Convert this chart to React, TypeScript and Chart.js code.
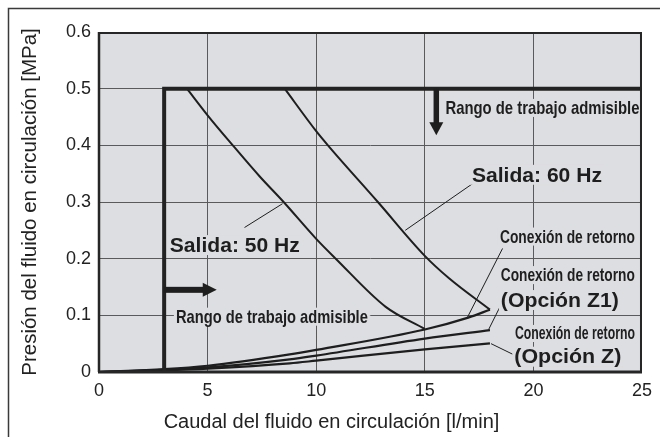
import React, { useEffect, useRef } from "react";
import { Chart, registerables } from "chart.js";

Chart.register(...registerables);

// ---- axis ticks ----
const xTickValues = [0, 5, 10, 15, 20, 25];
const xTickLabels = ["0", "5", "10", "15", "20", "25"];
const yTickValues = [0, 0.1, 0.2, 0.3, 0.4, 0.5, 0.6];
const yTickLabels = ["0", "0.1", "0.2", "0.3", "0.4", "0.5", "0.6"];

const xTitle = "Caudal del fluido en circulación [l/min]";
const yTitle = "Presión del fluido en circulación [MPa]";

// ---- series ----
// permissible working range boundary
const rangeX = [3, 3, 25];
const rangeY = [0, 0.5, 0.5];
// output 50 Hz
const hz50X = [4.05, 5, 6.16, 7.4, 8.5, 10, 10.9, 13.2, 15];
const hz50Y = [0.5, 0.453, 0.4, 0.345, 0.3, 0.235, 0.2, 0.115, 0.076];
// output 60 Hz
const hz60X = [8.55, 10, 10.54, 12.84, 15, 16.13, 18];
const hz60Y = [0.5, 0.425, 0.4, 0.3, 0.205, 0.165, 0.11];
// return connection
const retX = [0, 3, 5, 8.78, 10, 15, 17, 18];
const retY = [0, 0.005, 0.011, 0.031, 0.039, 0.075, 0.096, 0.11];
// return connection option Z1
const z1X = [0, 3, 5, 8.78, 10, 15, 18];
const z1Y = [0, 0.004, 0.008, 0.0224, 0.029, 0.059, 0.074];
// return connection option Z
const zX = [0, 3, 5, 8.78, 10, 15, 18];
const zY = [0, 0.003, 0.006, 0.0153, 0.02, 0.04, 0.0506];

const toPts = (xs: number[], ys: number[]) => xs.map((x, i) => ({ x, y: ys[i] }));

const BG = "#dddee1";
const INK = "#1e1e1e";
const GRID = "#5a5a5a";
const FONT = '"Liberation Sans", Arial, sans-serif';

type Label = { text: string; x: number; y: number; size: number; width: number };
const labels: Label[] = [
  { text: "Rango de trabajo admisible", x: 15.95, y: 0.466, size: 19, width: 194 },
  { text: "Salida: 60 Hz", x: 17.17, y: 0.348, size: 21, width: 130 },
  { text: "Salida: 50 Hz", x: 3.26, y: 0.224, size: 21, width: 130 },
  { text: "Rango de trabajo admisible", x: 3.54, y: 0.0976, size: 19, width: 192 },
  { text: "Conexión de retorno", x: 18.46, y: 0.239, size: 19, width: 135 },
  { text: "Conexión de retorno", x: 18.5, y: 0.171, size: 19, width: 134 },
  { text: "(Opción Z1)", x: 18.5, y: 0.127, size: 21, width: 118 },
  { text: "Conexión de retorno", x: 19.15, y: 0.068, size: 18, width: 120 },
  { text: "(Opción Z)", x: 19.12, y: 0.027, size: 21, width: 107 },
];

const leaders: [number, number, number, number][] = [
  [6.7, 0.255, 8.45, 0.297],
  [14.1, 0.25, 17.3, 0.335],
  [18.58, 0.218, 16.97, 0.097],
  [18.5, 0.118, 17.94, 0.075],
  [19.12, 0.03, 18.05, 0.05],
];

const annotPlugin = {
  id: "annot",
  beforeDraw(chart: any) {
    const { ctx, chartArea: a } = chart;
    ctx.save();
    ctx.fillStyle = "#ffffff";
    ctx.fillRect(0, 0, chart.width, chart.height);
    ctx.fillStyle = BG;
    ctx.fillRect(a.left, a.top, a.right - a.left, a.bottom - a.top);
    // outer frame
    ctx.strokeStyle = "#3a3a3a";
    ctx.lineWidth = 1.5;
    ctx.beginPath();
    ctx.moveTo(8.5, chart.height);
    ctx.lineTo(8.5, 8.5);
    ctx.lineTo(chart.width, 8.5);
    ctx.stroke();
    // x axis title (offset left of the plot centre, as in the source)
    ctx.fillStyle = "#222";
    ctx.font = `20px ${FONT}`;
    ctx.textAlign = "center";
    ctx.textBaseline = "middle";
    ctx.fillText(xTitle, (a.left + a.right) / 2 - 39, a.bottom + 50);
    ctx.restore();
  },
  beforeDatasetsDraw(chart: any) {
    const { ctx, scales } = chart;
    const xs = scales.x, ys = scales.y;
    ctx.save();
    // leader lines
    ctx.strokeStyle = INK;
    ctx.lineWidth = 1;
    leaders.forEach(([x1, y1, x2, y2]) => {
      ctx.beginPath();
      ctx.moveTo(xs.getPixelForValue(x1), ys.getPixelForValue(y1));
      ctx.lineTo(xs.getPixelForValue(x2), ys.getPixelForValue(y2));
      ctx.stroke();
    });
    // labels with background
    labels.forEach((l) => {
      const px = xs.getPixelForValue(l.x);
      const py = ys.getPixelForValue(l.y);
      ctx.font = `bold ${l.size}px ${FONT}`;
      const w = ctx.measureText(l.text).width;
      const sx = l.width / w;
      const h = l.size * 0.95;
      ctx.fillStyle = BG;
      ctx.fillRect(px - 2, py - h / 2, l.width + 4, h);
      ctx.fillStyle = INK;
      ctx.textBaseline = "middle";
      ctx.textAlign = "left";
      ctx.save();
      ctx.translate(px, py + 1);
      ctx.scale(sx, 1);
      ctx.fillText(l.text, 0, 0);
      ctx.restore();
    });
    ctx.restore();
  },
  afterDatasetsDraw(chart: any) {
    const { ctx, chartArea: a, scales } = chart;
    const xs = scales.x, ys = scales.y;
    ctx.save();
    ctx.strokeStyle = "#262626";
    ctx.lineWidth = 2;
    ctx.beginPath();
    ctx.moveTo(a.left, a.top + 1);
    ctx.lineTo(a.right - 1, a.top + 1);
    ctx.lineTo(a.right - 1, a.bottom);
    ctx.stroke();
    ctx.lineWidth = 2.5;
    ctx.beginPath();
    ctx.moveTo(a.left, a.top);
    ctx.lineTo(a.left, a.bottom);
    ctx.stroke();
    ctx.lineWidth = 3;
    ctx.beginPath();
    ctx.moveTo(a.left - 1, a.bottom);
    ctx.lineTo(a.right, a.bottom);
    ctx.stroke();

    // arrows
    ctx.fillStyle = INK;
    // down arrow
    const dx = xs.getPixelForValue(15.53);
    const dTop = ys.getPixelForValue(0.5);
    const dTip = ys.getPixelForValue(0.418);
    ctx.fillRect(dx - 2.75, dTop, 5.5, dTip - dTop - 12);
    ctx.beginPath();
    ctx.moveTo(dx - 7, dTip - 13);
    ctx.lineTo(dx + 7, dTip - 13);
    ctx.lineTo(dx, dTip);
    ctx.closePath();
    ctx.fill();
    // right arrow
    const ry = ys.getPixelForValue(0.145);
    const rL = xs.getPixelForValue(3);
    const rTip = xs.getPixelForValue(5.42);
    ctx.fillRect(rL, ry - 3, rTip - rL - 13, 6);
    ctx.beginPath();
    ctx.moveTo(rTip - 14, ry - 7);
    ctx.lineTo(rTip - 14, ry + 7);
    ctx.lineTo(rTip, ry);
    ctx.closePath();
    ctx.fill();
    ctx.restore();
  },
};

export default function App() {
  const ref = useRef<HTMLCanvasElement | null>(null);
  useEffect(() => {
    if (!ref.current) return;
    const lineDs = (label: string, xs: number[], ys: number[], width: number, tension = 0.35) => ({
      label,
      data: toPts(xs, ys),
      borderColor: INK,
      borderWidth: width,
      pointRadius: 0,
      fill: false,
      tension,
      cubicInterpolationMode: "monotone" as const,
    });
    const chart = new Chart(ref.current, {
      type: "line",
      data: {
        datasets: [
          { ...lineDs("Rango de trabajo admisible", rangeX, rangeY, 4, 0), cubicInterpolationMode: "default" as const, borderColor: "#222" },
          lineDs("Salida: 50 Hz", hz50X, hz50Y, 2),
          lineDs("Salida: 60 Hz", hz60X, hz60Y, 2),
          lineDs("Conexión de retorno", retX, retY, 2.2),
          lineDs("Conexión de retorno (Opción Z1)", z1X, z1Y, 2.2),
          lineDs("Conexión de retorno (Opción Z)", zX, zY, 2.2),
        ],
      },
      options: {
        animation: false,
        responsive: true,
        maintainAspectRatio: false,
        layout: { padding: { top: 32, right: 17, left: 0, bottom: 0 } },
        plugins: { legend: { display: false }, tooltip: { enabled: false } },
        scales: {
          x: {
            type: "linear",
            min: 0,
            max: 25,
            afterBuildTicks: (s: any) => { s.ticks = xTickValues.map((v) => ({ value: v })); },
            afterFit: (s: any) => { s.height = 65; },
            ticks: {
              callback: (v: any) => xTickLabels[xTickValues.indexOf(Number(v))] ?? "",
              color: "#222",
              font: { family: FONT, size: 18 },
              padding: 8,
              maxRotation: 0,
            },
            grid: { color: GRID, lineWidth: 1, drawTicks: false },
            border: { display: false },
            title: { display: false },
          },
          y: {
            type: "linear",
            min: 0,
            max: 0.6,
            afterBuildTicks: (s: any) => { s.ticks = yTickValues.map((v) => ({ value: v })); },
            afterFit: (s: any) => { s.width = 99; },
            ticks: {
              callback: (v: any) => {
                const i = yTickValues.findIndex((t) => Math.abs(t - Number(v)) < 1e-9);
                return i >= 0 ? yTickLabels[i] : "";
              },
              color: "#222",
              font: { family: FONT, size: 18 },
              padding: 8,
            },
            grid: { color: GRID, lineWidth: 1, drawTicks: false },
            border: { display: false },
            title: {
              display: true,
              text: yTitle,
              color: "#222",
              font: { family: FONT, size: 20.5 },
              padding: { top: 18, bottom: 0 },
            },
          },
        },
      },
      plugins: [annotPlugin],
    });
    return () => chart.destroy();
  }, []);
  return (
    <div style={{ position: "fixed", left: 0, top: 0, width: 660, height: 437 }}>
      <canvas ref={ref} />
    </div>
  );
}
